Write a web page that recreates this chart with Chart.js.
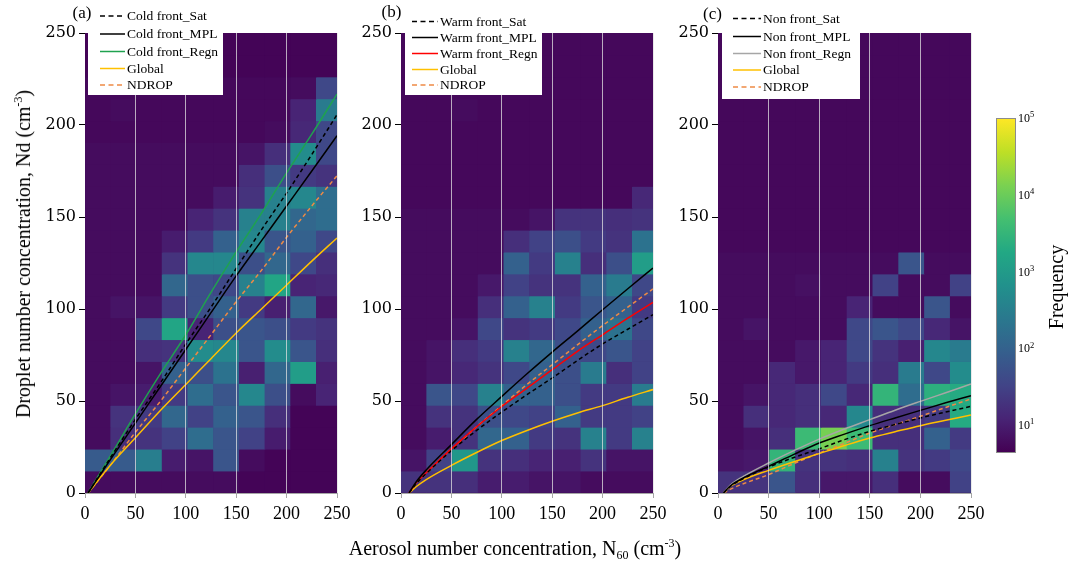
<!DOCTYPE html>
<html lang="en">
<head>
<meta charset="UTF-8">
<title>Nd vs N60 by front type</title>
<script src="https://cdn.jsdelivr.net/npm/chart.js@4.4.1/dist/chart.umd.min.js"></script>
<style>
  body { margin: 0; background: #fff; }
  #wrap { position: relative; width: 1079px; height: 562px; overflow: hidden; font-family: 'Liberation Serif', 'Times New Roman', serif; }
  canvas { position: absolute; top: 0; }
  .ttl { position: absolute; font-size: 20px; white-space: nowrap; color: #000; line-height: 1; }
  .ttl sup { font-size: 12px; vertical-align: 8px; line-height: 0; }
  .ttl sub { font-size: 12px; vertical-align: -4px; line-height: 0; }
  #ytitle { left: 23px; top: 254px; transform: translate(-50%, -50%) rotate(-90deg); }
  #xtitle { left: 515px; top: 548px; transform: translate(-50%, -50%); }
</style>
</head>
<body>
<div id="wrap">
  <canvas id="cold" width="355" height="562" style="left:0px"></canvas>
  <canvas id="warm" width="320" height="562" style="left:350px"></canvas>
  <canvas id="non" width="320" height="562" style="left:667px"></canvas>
  <canvas id="cbar" width="99" height="562" style="left:980px"></canvas>
  <div class="ttl" id="ytitle">Droplet number concentration, Nd (cm<sup>-3</sup>)</div>
  <div class="ttl" id="xtitle">Aerosol number concentration, N<sub>60</sub> (cm<sup>-3</sup>)</div>
</div>
<script>
    // histogram bins (N60 columns, Nd rows)
    const xEdges = [0, 25.5, 51, 76.5, 102, 127.5, 153, 178.5, 204, 229.5, 255];
    const yEdges = [0, 11.9, 23.8, 35.7, 47.6, 59.5, 71.4, 83.3, 95.2, 107.1, 119, 130.9,
                    142.8, 154.7, 166.6, 178.5, 190.4, 202.3, 214.2, 226.1, 238, 250];

    // log10(frequency) of every cell, bottom row first
    const coldLogFreq = [
        [0.8, 0.8, 0.8, 0.8, 0.8, 0.8, 0.7, 0.7, 0.7, 0.7],
        [1.9, 1.9, 2.5, 1.0, 0.9, 1.8, 0.8, 0.7, 0.7, 0.7],
        [0.8, 1.25, 1.3, 1.5, 2.2, 1.8, 1.5, 1.0, 0.7, 0.7],
        [0.8, 1.3, 1.4, 2.1, 1.5, 2.0, 1.8, 1.25, 0.7, 0.7],
        [0.8, 0.9, 1.0, 1.4, 2.2, 1.8, 2.65, 1.7, 0.8, 1.1],
        [0.8, 0.8, 0.9, 2.0, 1.7, 2.3, 1.05, 2.1, 3.05, 1.05],
        [0.8, 0.8, 1.25, 1.3, 2.75, 2.65, 1.8, 2.75, 1.8, 1.25],
        [0.8, 0.8, 1.6, 3.2, 1.1, 1.7, 1.8, 1.7, 1.4, 1.3],
        [0.8, 0.9, 0.9, 1.4, 1.7, 2.0, 1.4, 1.05, 2.1, 0.95],
        [0.8, 0.8, 0.8, 2.1, 1.7, 1.6, 2.55, 3.2, 1.1, 1.15],
        [0.8, 0.8, 0.8, 1.3, 2.65, 2.65, 1.7, 2.1, 1.6, 1.25],
        [0.8, 0.8, 0.8, 1.0, 1.4, 2.0, 2.65, 1.8, 2.0, 1.6],
        [0.8, 0.8, 0.8, 0.8, 1.1, 1.3, 2.55, 2.55, 2.1, 2.2],
        [0.8, 0.8, 0.8, 0.8, 0.8, 1.0, 1.3, 2.55, 2.65, 2.2],
        [0.8, 0.8, 0.8, 0.8, 0.8, 0.8, 1.25, 1.7, 1.4, 1.3],
        [0.8, 0.8, 0.8, 0.8, 0.8, 0.8, 0.9, 1.25, 2.75, 1.6],
        [0.75, 0.75, 0.75, 0.75, 0.75, 0.75, 0.75, 0.8, 1.15, 1.6],
        [0.75, 0.8, 0.75, 0.75, 0.75, 0.75, 0.75, 0.75, 1.1, 2.45],
        [0.75, 0.75, 0.75, 0.75, 0.75, 0.75, 0.75, 0.75, 0.8, 1.6],
        [0.7, 0.7, 0.7, 0.7, 0.7, 0.7, 0.7, 0.7, 0.7, 0.7],
        [0.7, 0.7, 0.7, 0.7, 0.7, 0.7, 0.7, 0.7, 0.7, 0.7]
    ];
    const warmLogFreq = [
        [1.3, 1.3, 1.25, 1.0, 1.0, 0.9, 0.9, 0.8, 0.8, 0.8],
        [0.9, 1.5, 2.95, 1.3, 1.25, 1.1, 1.05, 1.3, 0.9, 0.9],
        [0.8, 1.0, 1.3, 2.1, 2.0, 1.4, 1.3, 2.55, 1.4, 2.55],
        [0.8, 1.3, 1.3, 1.7, 1.6, 1.5, 2.0, 1.4, 1.4, 1.5],
        [0.8, 1.8, 1.6, 2.55, 2.0, 2.0, 1.7, 1.4, 1.4, 2.45],
        [0.8, 0.9, 1.15, 1.3, 1.6, 2.0, 1.7, 2.45, 1.25, 1.5],
        [0.8, 0.9, 1.25, 1.4, 2.55, 2.1, 1.7, 1.6, 1.8, 1.5],
        [0.8, 0.8, 0.9, 1.6, 1.3, 1.4, 1.6, 2.0, 2.3, 1.6],
        [0.8, 0.8, 0.8, 1.25, 2.0, 2.55, 1.4, 1.8, 2.0, 1.4],
        [0.8, 0.8, 0.8, 0.95, 1.5, 1.3, 1.3, 2.0, 2.45, 1.6],
        [0.8, 0.8, 0.8, 0.8, 2.0, 1.4, 2.55, 1.25, 1.7, 3.05],
        [0.8, 0.8, 0.8, 0.8, 1.25, 1.5, 1.7, 1.4, 1.3, 2.3],
        [0.8, 0.8, 0.8, 0.8, 0.8, 0.9, 1.3, 1.3, 1.25, 1.3],
        [0.75, 0.75, 0.75, 0.75, 0.75, 0.75, 0.75, 0.75, 0.75, 1.15],
        [0.75, 0.75, 0.75, 0.75, 0.75, 0.75, 0.75, 0.75, 0.75, 0.75],
        [0.75, 0.75, 0.75, 0.75, 0.75, 0.75, 0.75, 0.75, 0.75, 0.75],
        [0.75, 0.75, 0.75, 0.75, 0.75, 0.75, 0.75, 0.75, 0.75, 0.75],
        [0.75, 0.75, 0.8, 0.75, 0.75, 0.75, 0.75, 0.75, 0.75, 0.75],
        [0.75, 0.75, 0.75, 0.75, 0.75, 0.75, 0.75, 0.75, 0.75, 0.75],
        [0.75, 0.75, 0.75, 0.75, 0.75, 0.75, 0.75, 0.75, 0.75, 0.75],
        [0.75, 0.75, 0.75, 0.75, 0.75, 0.75, 0.75, 0.75, 0.75, 0.75]
    ];
    const nonLogFreq = [
        [1.3, 1.3, 1.8, 1.25, 0.95, 0.95, 1.25, 0.8, 0.8, 1.5],
        [0.9, 0.95, 3.5, 1.3, 1.3, 1.25, 2.55, 1.3, 1.4, 1.6],
        [0.8, 0.9, 1.25, 3.6, 4.1, 3.6, 1.25, 1.25, 2.0, 1.4],
        [0.8, 1.25, 1.15, 1.25, 1.15, 2.65, 1.25, 1.25, 1.4, 3.3],
        [0.8, 0.9, 1.15, 1.25, 1.6, 1.15, 3.5, 2.2, 3.4, 3.3],
        [0.8, 0.8, 1.15, 0.95, 1.1, 1.4, 1.25, 2.45, 1.6, 2.75],
        [0.8, 0.8, 0.8, 0.95, 1.1, 1.6, 1.3, 1.05, 2.65, 2.45],
        [0.8, 0.9, 0.8, 0.8, 0.8, 1.6, 1.8, 1.6, 1.15, 0.9],
        [0.8, 0.8, 0.8, 0.8, 0.8, 1.1, 0.8, 0.8, 1.8, 0.8],
        [0.8, 0.8, 0.8, 0.85, 0.8, 0.8, 1.5, 0.8, 0.8, 1.5],
        [0.8, 0.8, 0.8, 0.8, 0.8, 0.8, 0.8, 1.8, 0.8, 0.8],
        [0.75, 0.75, 0.75, 0.75, 0.75, 0.75, 0.75, 0.75, 0.75, 0.75],
        [0.75, 0.75, 0.75, 0.75, 0.75, 0.75, 0.75, 0.75, 0.75, 0.75],
        [0.75, 0.75, 0.75, 0.75, 0.75, 0.75, 0.75, 0.75, 0.75, 0.75],
        [0.75, 0.75, 0.75, 0.75, 0.75, 0.75, 0.75, 0.75, 0.75, 0.75],
        [0.75, 0.75, 0.75, 0.75, 0.75, 0.75, 0.75, 0.75, 0.75, 0.75],
        [0.75, 0.75, 0.75, 0.75, 0.75, 0.75, 0.75, 0.75, 0.75, 0.75],
        [0.75, 0.75, 0.75, 0.75, 0.75, 0.75, 0.75, 0.75, 0.75, 0.75],
        [0.75, 0.75, 0.75, 0.75, 0.75, 0.75, 0.75, 0.75, 0.75, 0.75],
        [0.75, 0.75, 0.75, 0.75, 0.75, 0.75, 0.75, 0.75, 0.75, 0.75],
        [0.75, 0.75, 0.75, 0.75, 0.75, 0.75, 0.75, 0.75, 0.75, 0.75]
    ];

    // fitted curves
    const coldX = [3, 25, 50, 75, 100, 125, 150, 175, 200, 225, 250];
    const coldSat = [0, 19, 40, 60, 81, 101, 122, 143, 163, 184, 205.6];
    const coldMpl = [0, 18, 38, 58, 78, 98, 118, 137, 156, 175, 194.2];
    const coldRegn = [0, 20, 43, 65, 86, 109, 131, 152, 174, 195, 216.8];
    const coldGlobal = [0, 15, 30, 45, 59, 73, 87, 100, 113, 126, 138.6];
    const coldNdrop = [0, 15, 33, 50, 68, 86, 104, 121, 139, 156, 172.4];

    const warmX = [8, 15, 25, 50, 75, 100, 125, 150, 175, 200, 225, 250];
    const warmSat = [0, 5, 10.5, 23, 34, 44, 53.5, 62.5, 72, 81, 89, 96.9];
    const warmMpl = [0, 6, 12.5, 26.3, 40, 52.5, 64.8, 76.6, 88, 99.6, 111, 122.3];
    const warmRegn = [0, 5.5, 11, 24, 36, 47, 57, 67, 77, 86, 95, 103.6];
    const warmGlobal = [0, 3.4, 7.3, 15, 22, 28.5, 34, 39, 43.5, 47.5, 52, 56.2];
    const warmNdrop = [0, 5, 10.5, 23.5, 36, 47.5, 59, 69.7, 80.5, 91, 101, 110.9];

    const nonX = [5.5, 12, 25, 50, 75, 100, 125, 150, 175, 200, 225, 250];
    const nonSat = [0, 3.5, 7.8, 14.1, 19.3, 24, 29, 33.5, 37.2, 40.8, 44, 47.1];
    const nonMpl = [0, 3.8, 8.2, 14.5, 21, 27.2, 32, 36.6, 40.8, 44.9, 49, 52.9];
    const nonRegn = [0, 4.2, 9, 16.3, 23, 29.3, 34.8, 39.9, 45, 49.8, 54.5, 59.2];
    const nonGlobal = [0, 3.5, 7.2, 12.3, 17, 21.4, 25.8, 29.9, 33.3, 36.6, 39.5, 42.4];
    const nonNdrop = [0, 2, 5, 10, 16, 21.7, 27, 32.6, 37.2, 41.7, 46.5, 51.1];

    // colour bar range and labelled ticks
    const cbMin = 4.6;
    const cbMax = 100000;
    const cbTicks = [10, 100, 1000, 10000, 100000];

    const viridisStops = ['#440154', '#482475', '#414487', '#355f8d', '#2a788e', '#21918c',
                          '#22a884', '#44bf70', '#7ad151', '#bddf26', '#fde725'];

    function hexRgb(h) {
        return [1, 3, 5].map(i => parseInt(h.substr(i, 2), 16));
    }

    function viridis(t) {
        t = Math.max(0, Math.min(1, t));
        const p = t * (viridisStops.length - 1);
        const i = Math.min(Math.floor(p), viridisStops.length - 2);
        const f = p - i;
        const a = hexRgb(viridisStops[i]), b = hexRgb(viridisStops[i + 1]);
        const c = a.map((v, k) => Math.round(v + (b[k] - v) * f));
        return `rgb(${c[0]},${c[1]},${c[2]})`;
    }

    const logLo = Math.log10(cbMin), logHi = Math.log10(cbMax);

    // one floating bar per histogram cell
    function cellDataset(grid) {
        const pts = [], colors = [];
        grid.forEach((row, r) => row.forEach((v, c) => {
            pts.push({ x: (xEdges[c] + xEdges[c + 1]) / 2, y: [yEdges[r], yEdges[r + 1]] });
            colors.push(viridis((v - logLo) / (logHi - logLo)));
        }));
        return {
            type: 'bar', label: 'cells', data: pts, backgroundColor: colors,
            borderWidth: 0, barPercentage: 1, categoryPercentage: 1, grouped: false,
            clip: 0, order: 10
        };
    }

    function curve(label, xs, ys, color, dashed) {
        return {
            type: 'line', label: label,
            data: xs.map((x, i) => ({ x: x, y: ys[i] })),
            borderColor: color, borderWidth: 1.5, borderDash: dashed ? [4, 3] : [],
            pointRadius: 0, cubicInterpolationMode: 'monotone', fill: false, order: 0
        };
    }

    const plotBg = {
        id: 'plotBg',
        beforeDraw(chart) {
            const a = chart.chartArea;
            chart.ctx.save();
            chart.ctx.fillStyle = viridisStops[0];
            chart.ctx.fillRect(a.left, a.top, a.right - a.left, a.bottom - a.top);
            chart.ctx.restore();
        }
    };

    // legend sits in a white box over the top-left of the plot
    const boxLegend = {
        id: 'boxLegend',
        afterDraw(chart, args, o) {
            const ctx = chart.ctx, a = chart.chartArea;
            ctx.save();
            ctx.fillStyle = '#fff';
            ctx.fillRect(a.left + o.boxL, o.boxT, o.boxR - o.boxL, o.boxB - o.boxT);
            ctx.font = '13.5px "Liberation Serif"';
            ctx.textBaseline = 'middle';
            chart.data.datasets.filter(d => d.type === 'line').forEach((d, i) => {
                const y = o.rows[i];
                ctx.strokeStyle = d.borderColor;
                ctx.lineWidth = 1.5;
                ctx.setLineDash(d.borderDash.length ? [5, 3.5] : []);
                ctx.beginPath();
                ctx.moveTo(a.left + o.lineL, y);
                ctx.lineTo(a.left + o.lineR, y);
                ctx.stroke();
                ctx.fillStyle = '#000';
                ctx.fillText(d.label, a.left + o.textX, y + 0.5);
            });
            ctx.fillStyle = '#000';
            ctx.font = '17px "Liberation Serif"';
            ctx.fillText(o.tag, o.tagX, o.tagY);
            ctx.restore();
        }
    };

    function makePanel(id, grid, lines, yAxisWidth, padRight, legendOpts) {
        new Chart(document.getElementById(id), {
            type: 'bar',
            data: { datasets: [cellDataset(grid)].concat(lines) },
            options: {
                responsive: false,
                animation: false,
                devicePixelRatio: 1,
                layout: { padding: { left: 0, right: padRight, top: 33, bottom: 39 } },
                scales: {
                    x: {
                        type: 'linear', min: 0, max: 250, offset: false,
                        ticks: { stepSize: 50, maxRotation: 0, color: '#000', padding: 5,
                                 font: { family: 'Liberation Serif', size: 18 } },
                        grid: {
                            z: 1, offset: false, lineWidth: 1,
                            color: c => (c.tick && c.tick.value > 0) ? 'rgba(225,225,225,0.75)' : 'rgba(0,0,0,0)',
                            drawTicks: true, tickLength: 5, tickColor: '#a6a6a6'
                        },
                        border: { display: true, color: '#a6a6a6', z: 2 },
                        afterFit: s => { s.height = 30; s.paddingLeft = 0; s.paddingRight = 0; }
                    },
                    y: {
                        min: 0, max: 250,
                        ticks: { stepSize: 50, color: '#000', padding: 3,
                                 font: { family: 'DejaVu Serif', size: 16 } },
                        grid: { drawOnChartArea: false, drawTicks: true, tickLength: 6, tickColor: '#000' },
                        border: { display: false },
                        afterFit: s => { s.width = yAxisWidth; s.paddingTop = 0; s.paddingBottom = 0; }
                    }
                },
                plugins: {
                    legend: { display: false },
                    tooltip: { enabled: false },
                    boxLegend: legendOpts
                }
            },
            plugins: [plotBg, boxLegend]
        });
    }

    makePanel('cold', coldLogFreq, [
        curve('Cold front_Sat', coldX, coldSat, '#000', true),
        curve('Cold front_MPL', coldX, coldMpl, '#000', false),
        curve('Cold front_Regn', coldX, coldRegn, '#1fa24f', false),
        curve('Global', coldX, coldGlobal, '#ffc000', false),
        curve('NDROP', coldX, coldNdrop, '#ee8a45', true)
    ], 85, 18, { boxL: 3, boxR: 138, boxT: 4, boxB: 95, lineL: 15, lineR: 40, textX: 42,
               rows: [16, 34, 51.5, 68.5, 85], tag: '(a)', tagX: 72.5, tagY: 14 });

    makePanel('warm', warmLogFreq, [
        curve('Warm front_Sat', warmX, warmSat, '#000', true),
        curve('Warm front_MPL', warmX, warmMpl, '#000', false),
        curve('Warm front_Regn', warmX, warmRegn, '#ff0000', false),
        curve('Global', warmX, warmGlobal, '#ffc000', false),
        curve('NDROP', warmX, warmNdrop, '#ee8a45', true)
    ], 51, 17, { boxL: 4, boxR: 141, boxT: 4, boxB: 95, lineL: 11, lineR: 37, textX: 39,
               rows: [21.5, 37.5, 53.5, 69.5, 85], tag: '(b)', tagX: 31.5, tagY: 13 });

    makePanel('non', nonLogFreq, [
        curve('Non front_Sat', nonX, nonSat, '#000', true),
        curve('Non front_MPL', nonX, nonMpl, '#000', false),
        curve('Non front_Regn', nonX, nonRegn, '#a6a6a6', false),
        curve('Global', nonX, nonGlobal, '#ffc000', false),
        curve('NDROP', nonX, nonNdrop, '#ee8a45', true)
    ], 51, 16, { boxL: 4, boxR: 142, boxT: 4, boxB: 99, lineL: 15, lineR: 43, textX: 45,
               rows: [18.5, 36.5, 53.5, 70, 87], tag: '(c)', tagX: 36, tagY: 15 });

    // colour bar: a single log-scale bar with a viridis gradient
    const cbarLabels = {
        id: 'cbarLabels',
        afterDraw(chart) {
            const ctx = chart.ctx, a = chart.chartArea, ys = chart.scales.y;
            ctx.save();
            ctx.strokeStyle = '#8c8c8c';
            ctx.lineWidth = 1;
            ctx.strokeRect(a.left - 0.5, a.top - 0.5, a.right - a.left + 1, a.bottom - a.top + 1);
            ctx.fillStyle = '#000';
            ctx.textBaseline = 'middle';
            cbTicks.forEach(v => {
                const y = ys.getPixelForValue(v);
                ctx.font = '12px "Liberation Serif"';
                ctx.fillText('10', a.right + 3, y);
                const w = ctx.measureText('10').width;
                ctx.font = '8.5px "Liberation Serif"';
                ctx.fillText(String(Math.round(Math.log10(v))), a.right + 3 + w, y - 4);
            });
            ctx.translate(78, 287);
            ctx.rotate(-Math.PI / 2);
            ctx.textAlign = 'center';
            ctx.font = '20px "Liberation Serif"';
            ctx.fillText('Frequency', 0, 0);
            ctx.restore();
        }
    };

    new Chart(document.getElementById('cbar'), {
        type: 'bar',
        data: {
            labels: ['Frequency'],
            datasets: [{
                data: [[cbMin, cbMax]],
                backgroundColor: c => {
                    const a = c.chart.chartArea;
                    if (!a) return viridisStops[0];
                    const g = c.chart.ctx.createLinearGradient(0, a.bottom, 0, a.top);
                    viridisStops.forEach((s, i) => g.addColorStop(i / (viridisStops.length - 1), s));
                    return g;
                },
                borderWidth: 0, barPercentage: 1, categoryPercentage: 1
            }]
        },
        options: {
            responsive: false,
            animation: false,
            devicePixelRatio: 1,
            layout: { padding: { left: 17, right: 64, top: 119, bottom: 110 } },
            scales: {
                x: { display: false },
                y: { type: 'logarithmic', display: false, min: cbMin, max: cbMax }
            },
            plugins: { legend: { display: false }, tooltip: { enabled: false } }
        },
        plugins: [cbarLabels]
    });
</script>
</body>
</html>
